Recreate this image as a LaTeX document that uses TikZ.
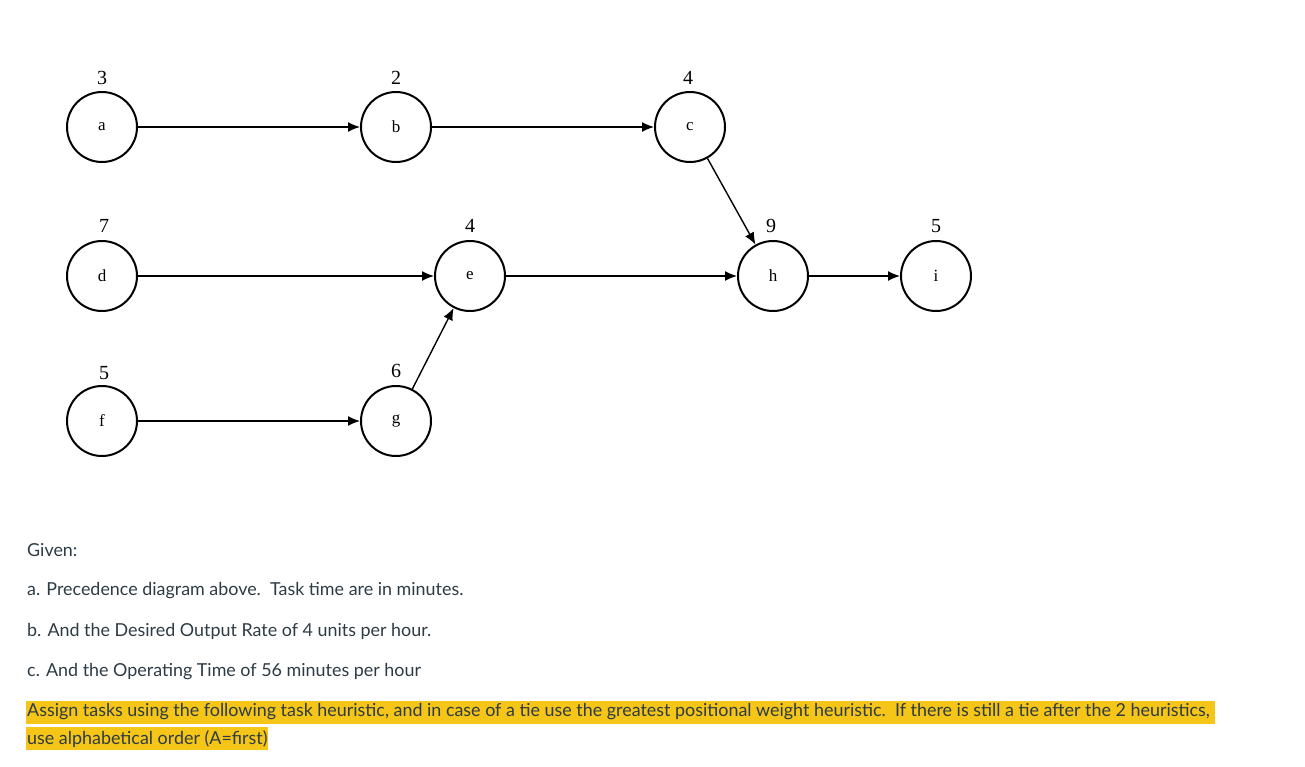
\documentclass[tikz,border=0pt]{standalone}
\usepackage{fontspec}
\setmainfont{Liberation Serif}
\newfontfamily\lato{Lato}
\usetikzlibrary{arrows.meta}
\definecolor{hl}{HTML}{F5C518}
\definecolor{txt}{HTML}{2D3B45}
\tikzset{
  task/.style={circle,draw,line width=2pt,minimum size=70pt,inner sep=0pt,font=\fontsize{17}{18}\selectfont},
  num/.style={font=\fontsize{20}{21}\selectfont},
  arr/.style={-{Latex[length=12pt,width=10pt]},line width=1.4pt},
  para/.style={anchor=west,text=txt,font=\lato\fontsize{17.9}{21}\selectfont,inner sep=0pt}
}
\begin{document}
\begin{tikzpicture}[x=1pt,y=-1pt]
\useasboundingbox (0,0) rectangle (1305,766);
\node[task] (a) at (102,127) {a};
\node[task] (b) at (396,127) {b};
\node[task] (c) at (690,127) {c};
\node[task] (d) at (102,276) {d};
\node[task] (e) at (470,276) {e};
\node[task] (h) at (773,276) {h};
\node[task] (i) at (936,276) {i};
\node[task] (f) at (102,421) {f};
\node[task] (g) at (396,421) {g};
\node[num] (la) at (102,78) {3};
\node[num] (lb) at (396,78) {2};
\node[num] (lc) at (688,78) {4};
\node[num] (ld) at (104,226) {7};
\node[num] (le) at (470,226) {4};
\node[num] (lh) at (771,226) {9};
\node[num] (li) at (936,226) {5};
\node[num] (lf) at (104,373) {5};
\node[num] (lg) at (396,371) {6};
\draw[arr] (a) -- (b);
\draw[arr] (b) -- (c);
\draw[arr] (c) -- (h);
\draw[arr] (d) -- (e);
\draw[arr] (e) -- (h);
\draw[arr] (h) -- (i);
\draw[arr] (f) -- (g);
\draw[arr] (g) -- (e);
\node[para] (t0) at (27,550) {Given:};
\node[para] (t1) at (27,591) {a. Precedence diagram above.\ \ Task time are in minutes.};
\node[para] (t2) at (27,631) {b. And the Desired Output Rate of 4 units per hour.};
\node[para] (t3) at (27,672) {c. And the Operating Time of 56 minutes per hour};
\fill[hl] (26,701) rectangle (1215,724);
\fill[hl] (26,727) rectangle (268,750);
\node[para] (t4) at (27,712) {Assign tasks using the following task heuristic, and in case of a tie use the greatest positional weight heuristic.\ \ If there is still a tie after the 2 heuristics,};
\node[para] (t5) at (27,739) {use alphabetical order (A=first)};
\end{tikzpicture}
\end{document}
